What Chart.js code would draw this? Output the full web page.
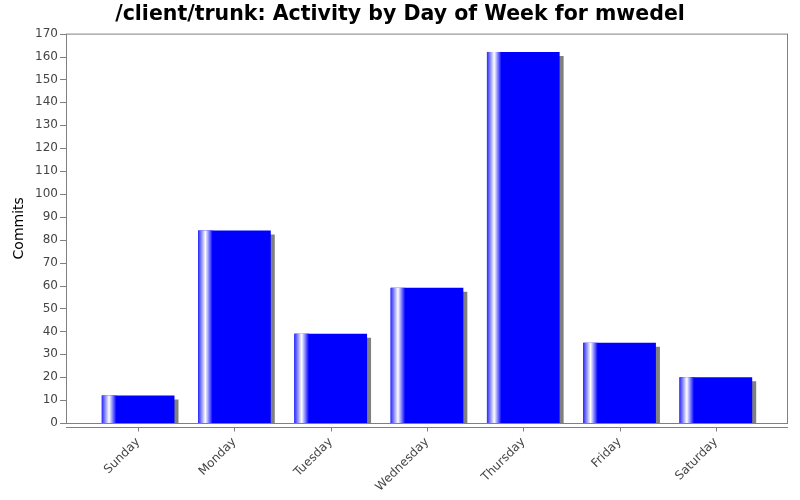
<!DOCTYPE html>
<html>
<head>
<meta charset="utf-8">
<script src="https://cdn.jsdelivr.net/npm/chart.js@4.4.0/dist/chart.umd.min.js"></script>
<style>
  body { margin: 0; background: #fff; }
  #wrap { width: 800px; height: 500px; }
</style>
</head>
<body>
<div id="wrap"><canvas id="myChart" width="800" height="500"></canvas></div>
<script>
const days = ['Sunday', 'Monday', 'Tuesday', 'Wednesday', 'Thursday', 'Friday', 'Saturday'];
const commits = [12, 84, 39, 59, 162, 35, 20];
const yMax = 170;
const yStep = 10;

const ctx = document.getElementById('myChart');

// plot frame sits 24px outside the bar area, like the original
const margin = 24;

const framePlugin = {
    id: 'frame',
    beforeDatasetsDraw(chart) {
        const c = chart.ctx;
        // shadow under the bars
        c.save();
        c.shadowColor = '#808080';
        c.shadowOffsetX = 4;
        c.shadowOffsetY = 4;
        c.shadowBlur = 0;
    },
    afterDatasetsDraw(chart) {
        const c = chart.ctx;
        c.restore();
        const a = chart.chartArea;
        const x = chart.scales.x;
        const y = chart.scales.y;

        // white stripe near the left side of each bar
        c.save();
        chart.getDatasetMeta(0).data.forEach(bar => {
            const p = bar.getProps(['x', 'y', 'width', 'base'], true);
            const left = p.x - p.width / 2;
            const g = c.createLinearGradient(left, 0, left + p.width, 0);
            g.addColorStop(0, 'rgba(40,40,255,1)');
            g.addColorStop(0.10, 'rgba(255,255,255,1)');
            g.addColorStop(0.20, 'rgba(0,0,255,1)');
            g.addColorStop(1, 'rgba(0,0,255,1)');
            c.fillStyle = g;
            c.fillRect(left, p.y, p.width * 0.2, p.base - p.y);
        });
        c.restore();

        const L = a.left - margin, R = a.right + margin;
        c.save();
        c.strokeStyle = '#808080';
        c.lineWidth = 1;
        c.strokeRect(L + 0.5, a.top + 0.5, R - L - 1, a.bottom - a.top);

        // y tick marks
        c.beginPath();
        for (let v = 0; v <= yMax; v += yStep) {
            const py = Math.round(y.getPixelForValue(v)) + 0.5;
            c.moveTo(L - 6, py);
            c.lineTo(L, py);
        }
        // x axis line and tick marks
        const ay = a.bottom + 4.5;
        c.moveTo(L, ay);
        c.lineTo(R, ay);
        days.forEach((d, i) => {
            const px = Math.round(x.getPixelForTick(i)) + 0.5;
            c.moveTo(px, ay);
            c.lineTo(px, ay + 4);
        });
        c.stroke();
        c.restore();
    }
};

function noPad(s) {
    s.paddingTop = 0;
    s.paddingBottom = 0;
}

new Chart(ctx, {
    type: 'bar',
    data: {
        labels: days,
        datasets: [{
            label: 'Commits',
            data: commits,
            backgroundColor: '#0000ff',
            borderWidth: 0,
            barPercentage: 1,
            categoryPercentage: 0.755
        }]
    },
    plugins: [framePlugin],
    options: {
        responsive: false,
        animation: false,
        devicePixelRatio: 1,
        layout: { padding: 0 },
        plugins: {
            legend: { display: false },
            tooltip: { enabled: false },
            title: {
                display: true,
                text: '/client/trunk: Activity by Day of Week for mwedel',
                color: '#000',
                font: { family: 'DejaVu Sans', size: 20.5, weight: 'bold' },
                padding: { top: 2, bottom: 7 }
            }
        },
        scales: {
            x: {
                grid: { display: false, drawTicks: false },
                border: { display: false },
                ticks: {
                    color: '#444',
                    font: { family: 'DejaVu Sans', size: 12 },
                    minRotation: 45,
                    maxRotation: 45,
                    padding: 12
                },
                afterFit: s => { s.height = 77; }
            },
            y: {
                min: 0,
                max: yMax,
                grid: { display: false, drawTicks: false },
                border: { display: false },
                ticks: {
                    stepSize: yStep,
                    color: '#444',
                    font: { family: 'DejaVu Sans', size: 12 },
                    padding: 32
                },
                title: {
                    display: true,
                    text: 'Commits',
                    color: '#000',
                    font: { family: 'DejaVu Sans', size: 14 },
                    padding: { top: 11, bottom: 0 }
                },
                afterFit: s => { s.width = 90; noPad(s); }
            },
            // empty right-hand box so the plot frame fits inside the canvas
            right: {
                position: 'right',
                display: true,
                grid: { display: false, drawTicks: false },
                border: { display: false },
                ticks: { display: false },
                afterFit: s => { s.width = 36; noPad(s); }
            }
        }
    }
});
</script>
</body>
</html>
